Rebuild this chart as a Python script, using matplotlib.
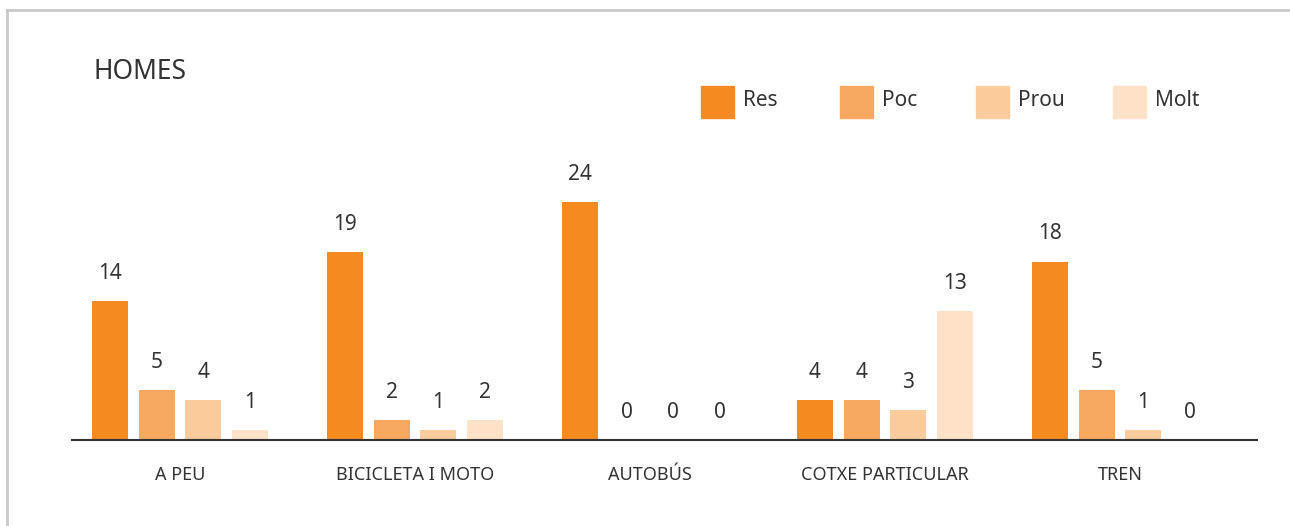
import matplotlib
matplotlib.use("Agg")
import matplotlib.pyplot as plt
from matplotlib.patches import Rectangle
from matplotlib.lines import Line2D
import numpy as np

categories = ["A PEU", "BICICLETA I MOTO", "AUTOBÚS", "COTXE PARTICULAR", "TREN"]
series_names = ["Res", "Poc", "Prou", "Molt"]
res = [14, 19, 24, 4, 18]
poc = [5, 2, 0, 4, 5]
prou = [4, 1, 0, 3, 1]
molt = [1, 2, 0, 13, 0]
series = [res, poc, prou, molt]
colors = ["#F58A21", "#F8A95F", "#FACB9D", "#FDE2C8"]
title = "HOMES"

plt.rcParams['font.family'] = ['Noto Sans', 'DejaVu Sans']
W, H = 1290, 526
fig = plt.figure(figsize=(W / 100, H / 100), dpi=100)

# frame lines (top and left)
fig.add_artist(Line2D([7 / W, 1.0], [1 - 10 / H, 1 - 10 / H], color="#C8C8C8", lw=2))
fig.add_artist(Line2D([7 / W, 7 / W], [0, 1 - 10 / H], color="#C8C8C8", lw=2))

ax_left, ax_right = 72 / W, 1257 / W
ax_bottom, ax_top = (H - 440) / H, (H - 160) / H
ax = fig.add_axes([ax_left, ax_bottom, ax_right - ax_left, ax_top - ax_bottom])

x = np.arange(len(categories))
width = 0.1532
step = 0.1987
text_color = "#333333"
for i, (vals, col) in enumerate(zip(series, colors)):
    xs = x + (i - 1.5) * step
    ax.bar(xs, vals, width=width, color=col, zorder=2)
    for xi, v in zip(xs, vals):
        ax.text(xi, v + 1.75, f"{v}", ha="center", va="bottom", fontsize=15, color=text_color)

ax.set_xlim(-0.4596, 4.583)
ax.set_ylim(0, 28.28)
for s in ["top", "right", "left"]:
    ax.spines[s].set_visible(False)
ax.spines["bottom"].set_color("#333333")
ax.spines["bottom"].set_linewidth(1.5)
ax.set_yticks([])
ax.set_xticks(x)
ax.set_xticklabels(categories, fontsize=13, color=text_color)
ax.tick_params(axis="x", length=0, pad=19)

fig.text(93 / W, 1 - 72 / H, title, fontsize=19, color=text_color, ha="left", va="center")

# legend
sq_x = [701, 840, 976, 1113]
for name, col, sx in zip(series_names, colors, sq_x):
    fig.add_artist(Rectangle((sx / W, 1 - 118 / H), 33 / W, 32 / H, color=col, transform=fig.transFigure))
    fig.text((sx + 42) / W, 1 - 101 / H, name, fontsize=15, color=text_color, ha="left", va="center")

fig.savefig("out.png", dpi=100)
